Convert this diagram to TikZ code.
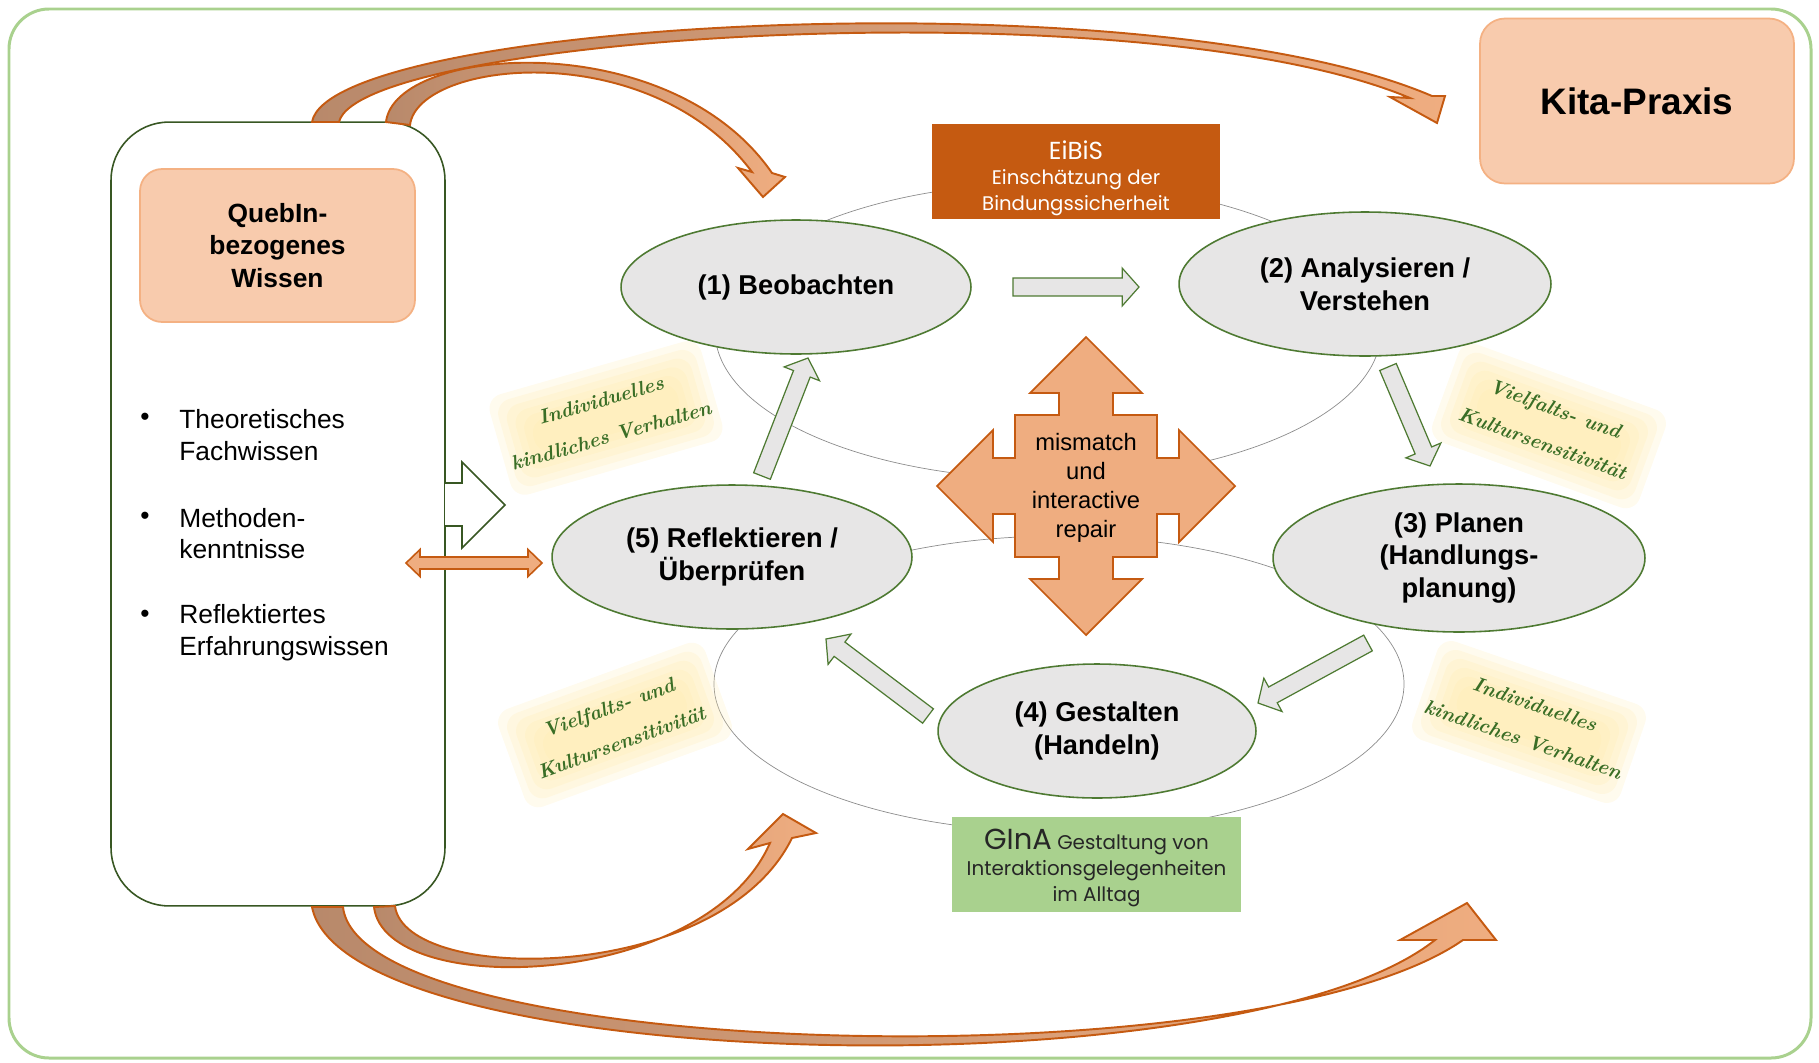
\documentclass[tikz,border=0pt]{standalone}
\usepackage{fontspec}
\newfontfamily\arial{Liberation Sans}
\newfontfamily\gothic{Poppins}
\usetikzlibrary{calc,shapes.geometric}
\definecolor{rahmengruen}{HTML}{A9D18E}
\definecolor{dunkelgruen}{HTML}{385723}
\definecolor{kreisrand}{HTML}{4E7A32}
\definecolor{grau}{HTML}{E7E6E6}
\definecolor{linie}{HTML}{8C8C8C}
\definecolor{pfirsich}{HTML}{F8CBAD}
\definecolor{pfirsichrand}{HTML}{F4B183}
\definecolor{kreuzfarbe}{HTML}{EFAD80}
\definecolor{dunkelorange}{HTML}{C55A11}
\definecolor{braun}{HTML}{B8896B}
\definecolor{gelb}{HTML}{FFE9A8}
\definecolor{schriftgruen}{HTML}{3A6E26}
\definecolor{textgrau}{HTML}{262626}

% Blockpfeil von #1 nach #2
\newcommand{\blockpfeil}[2]{%
  \filldraw[grauerpfeil] let \p1=($(#2)-(#1)$), \n1={atan2(\y1,\x1)}, \n2={veclen(\x1,\y1)-9.6} in
    ($(#1)+(\n1+90:5.1pt)$) -- ($(#1)+(\n1:\n2)+(\n1+90:5.1pt)$)
    -- ($(#1)+(\n1:\n2)+(\n1+90:10.8pt)$) -- (#2)
    -- ($(#1)+(\n1:\n2)+(\n1-90:10.8pt)$) -- ($(#1)+(\n1:\n2)+(\n1-90:5.1pt)$)
    -- ($(#1)+(\n1-90:5.1pt)$) -- cycle;}

\begin{document}
\begin{tikzpicture}[x=0.02cm, y=-0.02cm,
    every node/.style={font=\arial\fontsize{15}{18.1}\selectfont, align=center, inner sep=0pt},
    schritt/.style={ellipse, draw=kreisrand, line width=0.9pt, fill=grau,
      font=\arial\bfseries\fontsize{15.5}{18.7}\selectfont},
    grauerpfeil/.style={draw=kreisrand, line width=0.7pt, fill=grau},
    bogen/.style={draw=dunkelorange, line width=1.1pt, left color=braun, right color=kreuzfarbe},
    notiz/.style={font=\rmfamily\bfseries\itshape\fontsize{11.5}{21}\selectfont, text=schriftgruen},
    glanz/.style={fill=gelb, fill opacity=0.2, rounded corners=0.3cm}]

\useasboundingbox (0,0) rectangle (1819,1062);

% Rahmen
\draw[rahmengruen, line width=1.7pt, rounded corners=0.8cm] (9,9) rectangle (1811,1058);

% Hintergrund-Ellipsen
\draw[linie, line width=0.4pt] (1048,331) ellipse [x radius=333, y radius=148];
\draw[linie, line width=0.4pt] (1059,684) ellipse [x radius=345, y radius=148];

% Gelbe Notizflaechen
\foreach \cx/\cy/\w in {606/418/16, 1549/426/-20, 615/725/20, 1529/722/-19}
  \foreach \s in {0,7,...,35}
    \fill[glanz, rotate around={\w:(\cx,\cy)}] (\cx-110+\s,\cy-52+\s) rectangle (\cx+110-\s,\cy+52-\s);

% Wissen (linker Kasten)
\node[draw=dunkelgruen, fill=white, line width=0.9pt, rounded corners=1.16cm,
      minimum width=6.68cm, minimum height=15.68cm] (wissen) at (278,514) {};
\node[draw=pfirsichrand, fill=pfirsich, line width=1pt, rounded corners=0.44cm,
      minimum width=5.5cm, minimum height=3.06cm, font=\arial\bfseries\fontsize{15}{18.7}\selectfont]
      (quebin) at (277.5,245.5) {QuebIn-\\bezogenes\\Wissen};
\node (b1) at (145,419) {•};
\node (b2) at (145,518) {•};
\node (b3) at (145,616) {•};
\node[anchor=west, align=left] (w1) at (179,435) {Theoretisches\\Fachwissen};
\node[anchor=west, align=left] (w2) at (179,533.5) {Methoden-\\kenntnisse};
\node[anchor=west, align=left] (w3) at (179,633) {Reflektiertes\\Erfahrungswissen};

% Kita-Praxis
\node[draw=pfirsichrand, fill=pfirsich, line width=1pt, rounded corners=0.5cm,
      minimum width=6.28cm, minimum height=3.3cm, font=\arial\bfseries\fontsize{21}{24}\selectfont]
      (kita) at (1637,101) {Kita-Praxis};

% Kreislauf
\node[schritt, minimum width=7cm, minimum height=2.68cm] (s1) at (796,287) {(1) Beobachten};
\node[schritt, minimum width=7.44cm, minimum height=2.88cm] (s2) at (1365,284) {(2) Analysieren /\\Verstehen};
\node[schritt, minimum width=7.44cm, minimum height=2.96cm] (s3) at (1459,558) {(3) Planen\\(Handlungs-\\planung)};
\node[schritt, minimum width=6.36cm, minimum height=2.68cm] (s4) at (1097,731) {(4) Gestalten\\(Handeln)};
\node[schritt, minimum width=7.2cm, minimum height=2.88cm] (s5) at (732,557) {(5) Reflektieren /\\Überprüfen};

% EiBiS und GInA
\node[fill=dunkelorange, minimum width=5.76cm, minimum height=1.9cm] (eibis) at (1076,171.5) {};
\node[text=white, font=\gothic\fontsize{11.2}{14.5}\selectfont] (eibistext) at (1076,178)
      {{\fontsize{14}{16}\selectfont EiBiS}\\Einschätzung der\\Bindungssicherheit};
\node[fill=rahmengruen, minimum width=5.78cm, minimum height=1.9cm] (gina) at (1096.5,864.5) {};
\node[text=textgrau, font=\gothic\fontsize{11.3}{14.8}\selectfont] (ginatext) at (1096.5,868)
      {{\fontsize{16.5}{17}\selectfont GInA} Gestaltung von\\Interaktionsgelegenheiten\\im Alltag};

% Pfeile zwischen den Schritten
\coordinate (p12a) at (1013,287); \coordinate (p12b) at (1139,287);
\coordinate (p23a) at (1388,367); \coordinate (p23b) at (1430,466);
\coordinate (p34a) at (1368,643); \coordinate (p34b) at (1258,703);
\coordinate (p45a) at (928,716);  \coordinate (p45b) at (826,639);
\coordinate (p51a) at (762,476);  \coordinate (p51b) at (808,358);
\blockpfeil{p12a}{p12b}
\blockpfeil{p23a}{p23b}
\blockpfeil{p34a}{p34b}
\blockpfeil{p45a}{p45b}
\blockpfeil{p51a}{p51b}

% mismatch und interactive repair
\coordinate (kreuz) at (1086,486);
\filldraw[fill=kreuzfarbe, draw=dunkelorange, line width=1pt, shift={(kreuz)}]
  (-27,-71) -- (-27,-93) -- (-56,-93) -- (0,-149) -- (56,-93) -- (27,-93) -- (27,-71) -- (71,-71)
  -- (71,-28) -- (93,-28) -- (93,-56) -- (149,0) -- (93,56) -- (93,28) -- (71,28) -- (71,71)
  -- (27,71) -- (27,93) -- (56,93) -- (0,149) -- (-56,93) -- (-27,93) -- (-27,71) -- (-71,71)
  -- (-71,28) -- (-93,28) -- (-93,56) -- (-149,0) -- (-93,-56) -- (-93,-28) -- (-71,-28) -- (-71,-71) -- cycle;
\node[font=\arial\fontsize{13.5}{16.4}\selectfont] (repair) at (1086,488) {mismatch\\und\\interactive\\repair};

% Doppelpfeil und offener Pfeil
\coordinate (dp) at (406,563);
\filldraw[fill=kreuzfarbe, draw=dunkelorange, line width=0.9pt, shift={(dp)}]
  (0,0) -- (14,-13.5) -- (14,-6) -- (122,-6) -- (122,-13.5) -- (136,0) -- (122,13.5)
  -- (122,6) -- (14,6) -- (14,13.5) -- cycle;
\filldraw[fill=white, draw=dunkelgruen, line width=0.9pt]
  (445,483) -- (462,483) -- (462,462) -- (505,505) -- (462,548) -- (462,526) -- (445,526);

% Gebogene Pfeile oben
\path[bogen] (312,122) .. controls (330,20) and (1150,-25) .. (1432,96) -- (1445,96) -- (1437,123)
  -- (1390,97) -- (1410,98) .. controls (1140,-15) and (360,35) .. (339,122) -- cycle;
\path[bogen] (386,122) .. controls (395,45) and (670,25) .. (772,173) -- (785,177) -- (763,197)
  -- (738,168) -- (752,172) .. controls (650,35) and (418,60) .. (410,125) -- cycle;

% Gebogene Pfeile unten
\path[bogen] (374,907) .. controls (385,1000) and (705,990) .. (770,843) -- (748,849) -- (783,814)
  -- (816,833) -- (792,838) .. controls (720,985) and (405,985) .. (395,906) -- cycle;
\path[bogen] (312,907) .. controls (345,1075) and (1240,1095) .. (1435,940) -- (1400,940) -- (1467,903)
  -- (1496,940) -- (1463,940) .. controls (1255,1085) and (360,1060) .. (343,907) -- cycle;

% Notizen
\node[notiz, rotate=16] (n1) at (606,418) {Individuelles\\kindliches Verhalten};
\node[notiz, rotate=-20] (n2) at (1549,426) {Vielfalts- und\\Kultursensitivität};
\node[notiz, rotate=20] (n3) at (615,725) {Vielfalts- und\\Kultursensitivität};
\node[notiz, rotate=-19] (n4) at (1529,722) {Individuelles\\kindliches Verhalten};
\end{tikzpicture}
\end{document}
